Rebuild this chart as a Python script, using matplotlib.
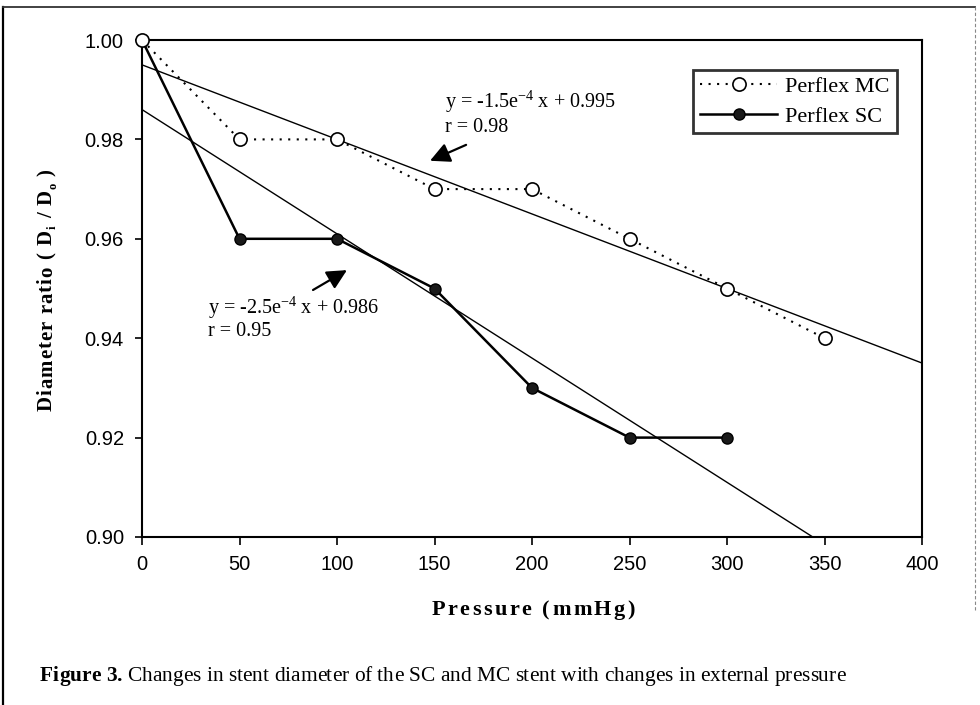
import matplotlib
matplotlib.use("Agg")
import matplotlib.pyplot as plt
from matplotlib.lines import Line2D
from matplotlib.font_manager import FontProperties, findfont, get_font

# ---- data ----
pressure_mc = [0, 50, 100, 150, 200, 250, 300, 350]
ratio_mc = [1.00, 0.98, 0.98, 0.97, 0.97, 0.96, 0.95, 0.94]
pressure_sc = [0, 50, 100, 150, 200, 250, 300]
ratio_sc = [1.00, 0.96, 0.96, 0.95, 0.93, 0.92, 0.92]
fit_mc = (-1.5e-4, 0.995)
fit_sc = (-2.5e-4, 0.986)
fit_x = [0, 400]
xticks = [0, 50, 100, 150, 200, 250, 300, 350, 400]
yticks = [0.90, 0.92, 0.94, 0.96, 0.98, 1.00]
series_labels = ["Perflex MC", "Perflex SC"]
eq_mc = ["y = -1.5e$^{-4}$ x + 0.995", "r = 0.98"]
eq_sc = ["y = -2.5e$^{-4}$ x + 0.986", "r = 0.95"]

serif = "Liberation Serif"
sans = "Liberation Sans"
plt.rcParams["mathtext.fontset"] = "custom"
plt.rcParams["mathtext.rm"] = serif
plt.rcParams["mathtext.it"] = serif + ":italic"
plt.rcParams["mathtext.bf"] = serif + ":bold"

W, H = 980, 705
fig = plt.figure(figsize=(W / 100, H / 100), dpi=100)
ax = fig.add_axes([142 / W, 1 - 537 / H, (922 - 142) / W, (537 - 40) / H])


def advance(ch, fp):
    f = get_font(findfont(fp))
    f.set_size(fp.get_size_in_points(), 100)
    g = f.load_char(ord(ch))
    return g.linearHoriAdvance / 65536.0


def spaced(tokens, anchor, baseline, spacing, vertical=False, align="center"):
    """tokens: list of (text, FontProperties, baseline shift px). pixel coords from bottom-left."""
    items, total = [], 0.0
    for s, fp, sh in tokens:
        for ch in s:
            a = advance(ch, fp)
            items.append((ch, fp, sh, total))
            total += a + spacing
    total -= spacing
    start = anchor - total / 2 if align == "center" else anchor
    for ch, fp, sh, off in items:
        if ch == " ":
            continue
        if vertical:
            x, y, rot = baseline - sh, start + off, 90
        else:
            x, y, rot = start + off, baseline + sh, 0
        fig.text(x / W, y / H, ch, fontproperties=fp, rotation=rot,
                 rotation_mode="anchor", ha="left", va="baseline")


# fit lines
for (m, b) in (fit_mc, fit_sc):
    ax.plot(fit_x, [m * x + b for x in fit_x], color="black", lw=1.0, zorder=2)

ax.plot(pressure_sc, ratio_sc, linestyle="-", color="black", lw=1.8,
        marker="o", markersize=8, markerfacecolor="#1a1a1a", markeredgecolor="black",
        markeredgewidth=1.0, zorder=3, label=series_labels[1], clip_on=False)
ax.plot(pressure_mc, ratio_mc, linestyle=(0, (1, 3.1)), color="black", lw=1.5,
        marker="o", markersize=9.5, markerfacecolor="white", markeredgecolor="black",
        markeredgewidth=1.2, zorder=5, label=series_labels[0], clip_on=False)

ax.set_xlim(0, 400)
ax.set_ylim(0.90, 1.00)
ax.set_xticks(xticks)
ax.set_yticks(yticks)
ax.set_xticklabels([str(t) for t in xticks], fontfamily=sans, fontsize=14.5)
ax.set_yticklabels([f"{t:.2f}" for t in yticks], fontfamily=sans, fontsize=14.5)
ax.tick_params(axis="x", direction="out", length=6, width=1.2, pad=7)
ax.tick_params(axis="y", direction="out", length=5, width=1.2, pad=8)
for s in ax.spines.values():
    s.set_linewidth(1.5)

# legend (MC first)
h, l = ax.get_legend_handles_labels()
leg = ax.legend(h[::-1], l[::-1], loc="upper left",
                bbox_to_anchor=((693 - 142) / 780, (537 - 70) / 497),
                prop={"family": serif, "size": 16}, frameon=True, fancybox=False,
                edgecolor="black", handlelength=3.5, handletextpad=0.36,
                borderpad=0.3, labelspacing=0.4, borderaxespad=0)
leg.get_frame().set_linewidth(2.0)
leg.set_zorder(6)

# equations and arrows
ax.annotate("", xy=(147.7, 0.9757), xytext=(166.2, 0.9789),
            arrowprops=dict(arrowstyle="-|>,head_length=0.6,head_width=0.3",
                            color="black", lw=1.6, mutation_scale=20, shrinkA=0, shrinkB=0))
ax.text(155.4, 0.98753, eq_mc[0], fontfamily=serif, fontsize=14.5, ha="left", va="center")
ax.text(155.4, 0.98249, eq_mc[1], fontfamily=serif, fontsize=14.5, ha="left", va="center")

ax.annotate("", xy=(105.1, 0.9537), xytext=(87.7, 0.9497),
            arrowprops=dict(arrowstyle="-|>,head_length=0.6,head_width=0.3",
                            color="black", lw=1.6, mutation_scale=20, shrinkA=0, shrinkB=0))
ax.text(33.8, 0.94608, eq_sc[0], fontfamily=serif, fontsize=14.5, ha="left", va="center")
ax.text(33.8, 0.94125, eq_sc[1], fontfamily=serif, fontsize=14.5, ha="left", va="center")

# axis titles (letter-spaced bold serif)
fpb15 = FontProperties(family=serif, weight="bold", size=15)
fpb9 = FontProperties(family=serif, weight="bold", size=9)
spaced([("Diameter ratio ( D", fpb15, 0), ("i", fpb9, -4), (" / D", fpb15, 0),
        ("o", fpb9, -4), (" )", fpb15, 0)],
       anchor=H - 290, baseline=52, spacing=1.0, vertical=True)
fpb16 = FontProperties(family=serif, weight="bold", size=16)
spaced([("Pressure (mmHg)", fpb16, 0)], anchor=533, baseline=H - 615, spacing=2.5)

# caption
fpc_b = FontProperties(family=serif, weight="bold", size=15.4)
fpc = FontProperties(family=serif, size=15.4)
spaced([("Figure 3. ", fpc_b, 0),
        ("Changes in stent diameter of the SC and MC stent with changes in external pressure", fpc, 0)],
       anchor=40, baseline=H - 681, spacing=0, align="left")

# outer frame
fig.add_artist(Line2D([3 / W, 3 / W], [0, 1 - 7 / H], transform=fig.transFigure, color="black", lw=1.6))
fig.add_artist(Line2D([3 / W, 975 / W], [1 - 7 / H, 1 - 7 / H], transform=fig.transFigure,
                      color="#333333", lw=1.3))
fig.add_artist(Line2D([975 / W, 975 / W], [1 - 610 / H, 1 - 7 / H], transform=fig.transFigure,
                      color="#888888", lw=0.8, linestyle=(0, (3, 2))))

fig.savefig("out.png", dpi=100)
